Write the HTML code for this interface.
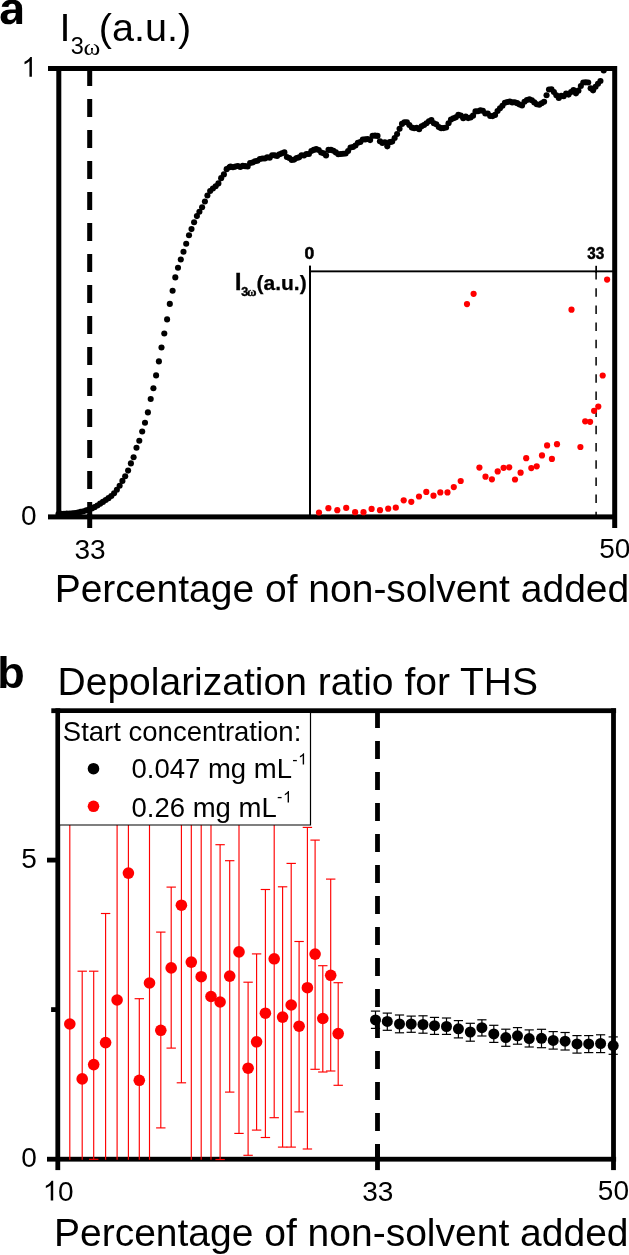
<!DOCTYPE html>
<html><head><meta charset="utf-8"><title>figure</title>
<style>html,body{margin:0;padding:0;background:#fff;width:629px;height:1255px;overflow:hidden}svg{display:block;will-change:transform}</style>
</head><body>
<svg width="629" height="1255" viewBox="0 0 629 1255">
<rect width="629" height="1255" fill="#fff"/>
<g fill="#000">
<rect x="48" y="66" width="569" height="5"/>
<rect x="48" y="514.4" width="569" height="5"/>
<rect x="56.3" y="66" width="5" height="453"/>
<rect x="612.2" y="66" width="5" height="462"/>
<rect x="87.2" y="514" width="5" height="14"/>
</g>
<line x1="89.7" y1="68" x2="89.7" y2="516" stroke="#000" stroke-width="5" stroke-dasharray="18 13"/>
<rect x="309" y="265.6" width="2" height="251" fill="#000"/>
<rect x="310" y="270.4" width="303" height="1.9" fill="#000"/>
<rect x="595.3" y="265.8" width="1.7" height="7" fill="#000"/>
<line x1="596.1" y1="271" x2="596.1" y2="515" stroke="#000" stroke-width="1.5" stroke-dasharray="8.5 8.7"/>
<g fill="#ff0000">
<circle cx="319.0" cy="512.5" r="3.1"/>
<circle cx="328.4" cy="508.2" r="3.1"/>
<circle cx="337.3" cy="510.2" r="3.1"/>
<circle cx="346.2" cy="507.9" r="3.1"/>
<circle cx="355.1" cy="512.2" r="3.1"/>
<circle cx="363.5" cy="512.2" r="3.1"/>
<circle cx="371.6" cy="508.9" r="3.1"/>
<circle cx="380.0" cy="510.2" r="3.1"/>
<circle cx="388.2" cy="508.7" r="3.1"/>
<circle cx="395.8" cy="507.7" r="3.1"/>
<circle cx="403.7" cy="500.3" r="3.1"/>
<circle cx="411.3" cy="501.8" r="3.1"/>
<circle cx="419.0" cy="496.5" r="3.1"/>
<circle cx="426.3" cy="491.9" r="3.1"/>
<circle cx="433.5" cy="495.7" r="3.1"/>
<circle cx="440.3" cy="492.4" r="3.1"/>
<circle cx="447.5" cy="492.4" r="3.1"/>
<circle cx="453.8" cy="487.1" r="3.1"/>
<circle cx="460.7" cy="481.0" r="3.1"/>
<circle cx="467.0" cy="304.1" r="3.1"/>
<circle cx="473.6" cy="293.8" r="3.1"/>
<circle cx="479.4" cy="467.6" r="3.1"/>
<circle cx="485.5" cy="476.7" r="3.1"/>
<circle cx="491.9" cy="479.3" r="3.1"/>
<circle cx="497.7" cy="471.4" r="3.1"/>
<circle cx="503.6" cy="467.8" r="3.1"/>
<circle cx="509.2" cy="467.3" r="3.1"/>
<circle cx="515.0" cy="479.5" r="3.1"/>
<circle cx="520.6" cy="472.7" r="3.1"/>
<circle cx="526.2" cy="458.2" r="3.1"/>
<circle cx="531.3" cy="468.1" r="3.1"/>
<circle cx="536.7" cy="466.3" r="3.1"/>
<circle cx="542.0" cy="455.4" r="3.1"/>
<circle cx="547.1" cy="445.4" r="3.1"/>
<circle cx="551.9" cy="458.9" r="3.1"/>
<circle cx="557.0" cy="444.2" r="3.1"/>
<circle cx="571.5" cy="309.7" r="3.1"/>
<circle cx="580.4" cy="447.0" r="3.1"/>
<circle cx="585.2" cy="421.3" r="3.1"/>
<circle cx="590.1" cy="421.8" r="3.1"/>
<circle cx="594.1" cy="410.8" r="3.1"/>
<circle cx="598.3" cy="406.6" r="3.1"/>
<circle cx="602.7" cy="375.5" r="3.1"/>
<circle cx="607.1" cy="279.6" r="3.1"/>
</g>
<g fill="#000">
<circle cx="58.48" cy="514.04" r="3.05"/>
<circle cx="61.26" cy="513.84" r="3.05"/>
<circle cx="64.04" cy="513.72" r="3.05"/>
<circle cx="66.82" cy="513.63" r="3.05"/>
<circle cx="69.60" cy="513.52" r="3.05"/>
<circle cx="72.38" cy="513.29" r="3.05"/>
<circle cx="75.16" cy="512.93" r="3.05"/>
<circle cx="77.94" cy="512.49" r="3.05"/>
<circle cx="80.72" cy="511.92" r="3.05"/>
<circle cx="83.50" cy="511.18" r="3.05"/>
<circle cx="86.28" cy="510.35" r="3.05"/>
<circle cx="89.06" cy="509.44" r="3.05"/>
<circle cx="91.84" cy="508.38" r="3.05"/>
<circle cx="94.62" cy="507.14" r="3.05"/>
<circle cx="97.40" cy="505.53" r="3.05"/>
<circle cx="100.18" cy="503.67" r="3.05"/>
<circle cx="102.96" cy="501.88" r="3.05"/>
<circle cx="105.74" cy="500.07" r="3.05"/>
<circle cx="108.52" cy="498.14" r="3.05"/>
<circle cx="111.30" cy="495.96" r="3.05"/>
<circle cx="114.08" cy="493.22" r="3.05"/>
<circle cx="116.86" cy="489.75" r="3.05"/>
<circle cx="119.64" cy="485.75" r="3.05"/>
<circle cx="122.42" cy="480.90" r="3.05"/>
<circle cx="125.20" cy="476.30" r="3.05"/>
<circle cx="128.10" cy="470.60" r="3.05"/>
<circle cx="130.90" cy="463.40" r="3.05"/>
<circle cx="133.60" cy="457.30" r="3.05"/>
<circle cx="136.50" cy="447.70" r="3.05"/>
<circle cx="139.30" cy="440.70" r="3.05"/>
<circle cx="142.20" cy="431.50" r="3.05"/>
<circle cx="145.00" cy="422.70" r="3.05"/>
<circle cx="147.90" cy="412.40" r="3.05"/>
<circle cx="150.70" cy="399.00" r="3.05"/>
<circle cx="153.40" cy="388.20" r="3.05"/>
<circle cx="156.10" cy="375.40" r="3.05"/>
<circle cx="158.90" cy="361.40" r="3.05"/>
<circle cx="161.50" cy="347.50" r="3.05"/>
<circle cx="164.30" cy="333.50" r="3.05"/>
<circle cx="167.10" cy="319.40" r="3.05"/>
<circle cx="169.80" cy="303.90" r="3.05"/>
<circle cx="172.60" cy="290.80" r="3.05"/>
<circle cx="175.30" cy="277.40" r="3.05"/>
<circle cx="178.00" cy="267.80" r="3.05"/>
<circle cx="180.80" cy="259.50" r="3.05"/>
<circle cx="183.50" cy="251.70" r="3.05"/>
<circle cx="186.20" cy="243.70" r="3.05"/>
<circle cx="189.00" cy="235.20" r="3.05"/>
<circle cx="191.50" cy="229.10" r="3.05"/>
<circle cx="194.10" cy="222.20" r="3.05"/>
<circle cx="196.90" cy="216.10" r="3.05"/>
<circle cx="199.40" cy="211.70" r="3.05"/>
<circle cx="202.10" cy="207.20" r="3.05"/>
<circle cx="204.90" cy="201.50" r="3.05"/>
<circle cx="207.40" cy="195.50" r="3.05"/>
<circle cx="210.15" cy="190.98" r="3.05"/>
<circle cx="212.90" cy="188.45" r="3.05"/>
<circle cx="215.65" cy="186.24" r="3.05"/>
<circle cx="218.40" cy="183.38" r="3.05"/>
<circle cx="221.15" cy="178.16" r="3.05"/>
<circle cx="223.90" cy="174.38" r="3.05"/>
<circle cx="226.65" cy="169.17" r="3.05"/>
<circle cx="229.40" cy="167.32" r="3.05"/>
<circle cx="230.50" cy="166.44" r="3.05"/>
<circle cx="232.95" cy="167.28" r="3.05"/>
<circle cx="235.40" cy="166.60" r="3.05"/>
<circle cx="237.85" cy="166.06" r="3.05"/>
<circle cx="240.30" cy="166.93" r="3.05"/>
<circle cx="242.75" cy="165.89" r="3.05"/>
<circle cx="245.20" cy="166.16" r="3.05"/>
<circle cx="247.65" cy="166.52" r="3.05"/>
<circle cx="250.10" cy="163.03" r="3.05"/>
<circle cx="252.55" cy="162.49" r="3.05"/>
<circle cx="255.00" cy="161.21" r="3.05"/>
<circle cx="257.45" cy="160.75" r="3.05"/>
<circle cx="259.90" cy="158.94" r="3.05"/>
<circle cx="262.35" cy="158.44" r="3.05"/>
<circle cx="264.80" cy="158.47" r="3.05"/>
<circle cx="267.25" cy="157.34" r="3.05"/>
<circle cx="269.70" cy="157.63" r="3.05"/>
<circle cx="272.15" cy="155.20" r="3.05"/>
<circle cx="274.60" cy="155.37" r="3.05"/>
<circle cx="277.05" cy="155.89" r="3.05"/>
<circle cx="279.50" cy="154.31" r="3.05"/>
<circle cx="281.95" cy="153.33" r="3.05"/>
<circle cx="284.40" cy="152.42" r="3.05"/>
<circle cx="286.85" cy="156.96" r="3.05"/>
<circle cx="289.30" cy="158.02" r="3.05"/>
<circle cx="291.75" cy="159.97" r="3.05"/>
<circle cx="294.20" cy="159.59" r="3.05"/>
<circle cx="296.65" cy="158.06" r="3.05"/>
<circle cx="299.10" cy="157.35" r="3.05"/>
<circle cx="301.55" cy="155.37" r="3.05"/>
<circle cx="304.00" cy="155.47" r="3.05"/>
<circle cx="306.45" cy="153.93" r="3.05"/>
<circle cx="308.90" cy="153.99" r="3.05"/>
<circle cx="311.35" cy="150.98" r="3.05"/>
<circle cx="313.80" cy="149.89" r="3.05"/>
<circle cx="316.25" cy="149.15" r="3.05"/>
<circle cx="318.70" cy="150.05" r="3.05"/>
<circle cx="321.15" cy="152.55" r="3.05"/>
<circle cx="323.60" cy="153.33" r="3.05"/>
<circle cx="326.05" cy="155.40" r="3.05"/>
<circle cx="328.50" cy="149.88" r="3.05"/>
<circle cx="330.95" cy="149.91" r="3.05"/>
<circle cx="333.40" cy="150.70" r="3.05"/>
<circle cx="335.85" cy="152.41" r="3.05"/>
<circle cx="338.30" cy="154.24" r="3.05"/>
<circle cx="340.75" cy="154.05" r="3.05"/>
<circle cx="343.20" cy="153.79" r="3.05"/>
<circle cx="345.65" cy="153.50" r="3.05"/>
<circle cx="348.10" cy="150.98" r="3.05"/>
<circle cx="350.55" cy="147.50" r="3.05"/>
<circle cx="353.00" cy="146.99" r="3.05"/>
<circle cx="355.45" cy="145.43" r="3.05"/>
<circle cx="357.90" cy="142.79" r="3.05"/>
<circle cx="360.35" cy="141.97" r="3.05"/>
<circle cx="362.80" cy="139.45" r="3.05"/>
<circle cx="365.25" cy="139.41" r="3.05"/>
<circle cx="367.70" cy="138.98" r="3.05"/>
<circle cx="370.15" cy="140.09" r="3.05"/>
<circle cx="372.60" cy="135.71" r="3.05"/>
<circle cx="375.05" cy="135.67" r="3.05"/>
<circle cx="377.50" cy="135.90" r="3.05"/>
<circle cx="379.95" cy="141.19" r="3.05"/>
<circle cx="382.40" cy="142.89" r="3.05"/>
<circle cx="384.85" cy="142.26" r="3.05"/>
<circle cx="387.30" cy="146.36" r="3.05"/>
<circle cx="389.75" cy="142.14" r="3.05"/>
<circle cx="392.20" cy="141.59" r="3.05"/>
<circle cx="394.65" cy="138.00" r="3.05"/>
<circle cx="397.10" cy="134.00" r="3.05"/>
<circle cx="399.55" cy="128.87" r="3.05"/>
<circle cx="402.00" cy="123.92" r="3.05"/>
<circle cx="404.45" cy="122.22" r="3.05"/>
<circle cx="406.90" cy="122.36" r="3.05"/>
<circle cx="409.35" cy="125.03" r="3.05"/>
<circle cx="411.80" cy="127.61" r="3.05"/>
<circle cx="414.25" cy="128.28" r="3.05"/>
<circle cx="416.70" cy="127.87" r="3.05"/>
<circle cx="419.15" cy="129.24" r="3.05"/>
<circle cx="421.60" cy="126.20" r="3.05"/>
<circle cx="424.05" cy="125.05" r="3.05"/>
<circle cx="426.50" cy="123.21" r="3.05"/>
<circle cx="428.95" cy="121.32" r="3.05"/>
<circle cx="431.40" cy="120.14" r="3.05"/>
<circle cx="433.85" cy="123.27" r="3.05"/>
<circle cx="436.30" cy="124.21" r="3.05"/>
<circle cx="438.75" cy="127.08" r="3.05"/>
<circle cx="441.20" cy="128.17" r="3.05"/>
<circle cx="443.65" cy="128.08" r="3.05"/>
<circle cx="446.10" cy="127.53" r="3.05"/>
<circle cx="448.55" cy="123.30" r="3.05"/>
<circle cx="451.00" cy="119.61" r="3.05"/>
<circle cx="453.45" cy="118.27" r="3.05"/>
<circle cx="455.90" cy="117.36" r="3.05"/>
<circle cx="458.35" cy="114.75" r="3.05"/>
<circle cx="460.80" cy="115.59" r="3.05"/>
<circle cx="463.25" cy="118.30" r="3.05"/>
<circle cx="465.70" cy="116.53" r="3.05"/>
<circle cx="468.15" cy="118.11" r="3.05"/>
<circle cx="470.60" cy="117.57" r="3.05"/>
<circle cx="473.05" cy="115.66" r="3.05"/>
<circle cx="475.50" cy="111.39" r="3.05"/>
<circle cx="477.95" cy="111.19" r="3.05"/>
<circle cx="480.40" cy="110.38" r="3.05"/>
<circle cx="482.85" cy="110.75" r="3.05"/>
<circle cx="485.30" cy="113.54" r="3.05"/>
<circle cx="487.75" cy="113.55" r="3.05"/>
<circle cx="490.20" cy="116.01" r="3.05"/>
<circle cx="492.65" cy="116.11" r="3.05"/>
<circle cx="495.10" cy="114.89" r="3.05"/>
<circle cx="497.55" cy="110.94" r="3.05"/>
<circle cx="500.00" cy="108.27" r="3.05"/>
<circle cx="502.45" cy="105.73" r="3.05"/>
<circle cx="504.90" cy="102.81" r="3.05"/>
<circle cx="507.35" cy="102.02" r="3.05"/>
<circle cx="509.80" cy="101.48" r="3.05"/>
<circle cx="512.25" cy="102.42" r="3.05"/>
<circle cx="514.70" cy="102.22" r="3.05"/>
<circle cx="517.15" cy="103.14" r="3.05"/>
<circle cx="519.60" cy="104.51" r="3.05"/>
<circle cx="522.05" cy="105.45" r="3.05"/>
<circle cx="524.50" cy="101.68" r="3.05"/>
<circle cx="526.95" cy="99.97" r="3.05"/>
<circle cx="529.40" cy="99.32" r="3.05"/>
<circle cx="531.85" cy="100.23" r="3.05"/>
<circle cx="534.30" cy="102.40" r="3.05"/>
<circle cx="536.75" cy="104.30" r="3.05"/>
<circle cx="539.20" cy="104.71" r="3.05"/>
<circle cx="541.65" cy="103.28" r="3.05"/>
<circle cx="544.10" cy="101.73" r="3.05"/>
<circle cx="546.55" cy="95.27" r="3.05"/>
<circle cx="549.00" cy="89.43" r="3.05"/>
<circle cx="551.45" cy="89.30" r="3.05"/>
<circle cx="553.90" cy="92.04" r="3.05"/>
<circle cx="556.35" cy="95.21" r="3.05"/>
<circle cx="558.80" cy="97.94" r="3.05"/>
<circle cx="561.25" cy="95.68" r="3.05"/>
<circle cx="563.70" cy="96.30" r="3.05"/>
<circle cx="566.15" cy="93.65" r="3.05"/>
<circle cx="568.60" cy="94.59" r="3.05"/>
<circle cx="571.05" cy="92.07" r="3.05"/>
<circle cx="573.50" cy="90.16" r="3.05"/>
<circle cx="575.95" cy="93.36" r="3.05"/>
<circle cx="578.40" cy="90.65" r="3.05"/>
<circle cx="580.85" cy="85.93" r="3.05"/>
<circle cx="583.30" cy="82.50" r="3.05"/>
<circle cx="585.75" cy="82.35" r="3.05"/>
<circle cx="588.20" cy="82.57" r="3.05"/>
<circle cx="590.65" cy="88.33" r="3.05"/>
<circle cx="593.10" cy="90.36" r="3.05"/>
<circle cx="595.55" cy="86.86" r="3.05"/>
<circle cx="598.00" cy="83.70" r="3.05"/>
<circle cx="600.45" cy="81.04" r="3.05"/>
<circle cx="603.70" cy="70.53" r="3.05"/>
</g>
<g font-family='"Liberation Sans", sans-serif' fill="#000">
<path transform="translate(-0.826,23.9) scale(0.02293,-0.02197)" fill="#000" d="M393 -20Q236 -20 148.0 65.5Q60 151 60 306Q60 474 169.5 562.0Q279 650 487 652L720 656V711Q720 817 683.0 868.5Q646 920 562 920Q484 920 447.5 884.5Q411 849 402 767L109 781Q136 939 253.5 1020.5Q371 1102 574 1102Q779 1102 890.0 1001.0Q1001 900 1001 714V0H752Q748 40 746 100Q744 150 742 193H736Q631 -20 393 -20ZM720 501 576 499Q478 495 437.0 477.5Q396 460 374.5 424.0Q353 388 353 328Q353 251 388.5 213.5Q424 176 483 176Q549 176 603.5 212.0Q658 248 689.0 311.5Q720 375 720 446Z"/>
<text x="59.45" y="40.8" font-size="39.6">I</text>
<text x="70.7" y="54.4" font-size="23.5">3</text>
<text x="83.54" y="54.5" font-size="24" font-family='"Liberation Serif", serif' textLength="16.78" lengthAdjust="spacingAndGlyphs">ω</text>
<text x="98.8" y="40.8" font-size="39.6">(a.u.)</text>
<path transform="translate(21.47,76.7) scale(0.01367,-0.01367)" fill="#000" d="M763 0H583V1130Q518 1069 412.5 1008T223 916V1088Q374 1158 487 1257T647 1450H763Z"/>
<text x="20.9" y="524.95" font-size="28">0</text>
<text x="74.4" y="558.75" font-size="28">33</text>
<text x="599.15" y="558.35" font-size="28">50</text>
<text x="54.65" y="602" font-size="39">Percentage of non-solvent added</text>
<g font-weight="bold" stroke="#000" stroke-width="0.5">
<text x="304.53" y="259.1" font-size="16" textLength="9.74" lengthAdjust="spacingAndGlyphs">0</text>
<text x="587.17" y="259.1" font-size="16" textLength="17.0" lengthAdjust="spacingAndGlyphs">33</text>
<text x="235.0" y="289.7" font-size="23" stroke-width="0.4">I</text>
<text x="241.15" y="296.1" font-size="12.5" stroke-width="0.4">3</text>
<text x="247.0" y="296.1" font-size="13" stroke-width="0.4" font-family='"Liberation Serif", serif'>ω</text>
<text x="256.5" y="289.5" font-size="21" stroke-width="0.25">(a.u.)</text>
</g>
</g>
<g fill="#000">
<rect x="51.3" y="708.3" width="564.8" height="4.8"/>
<rect x="47" y="1156.8" width="569.1" height="4.8"/>
<rect x="55.4" y="708.3" width="4.8" height="461.8"/>
<rect x="611.1" y="708.3" width="4.8" height="461.8"/>
<rect x="47" y="857.7" width="10" height="4.8"/>
<rect x="51.1" y="1007.2" width="6" height="4.8"/>
<rect x="375.1" y="1144" width="4.8" height="26.1"/>
</g>
<line x1="377.5" y1="710" x2="377.5" y2="1159" stroke="#000" stroke-width="4.8" stroke-dasharray="18 13"/>
<g stroke="#ff0000" stroke-width="1.15" fill="none">
<line x1="69.8" y1="800" x2="69.8" y2="1159.8"/>
<line x1="82.2" y1="971.2" x2="82.2" y2="1159.8"/>
<line x1="77.5" y1="971.2" x2="86.9" y2="971.2"/>
<line x1="93.7" y1="971.2" x2="93.7" y2="1159.3"/>
<line x1="89.0" y1="971.2" x2="98.4" y2="971.2"/>
<line x1="89.0" y1="1159.3" x2="98.4" y2="1159.3"/>
<line x1="105.6" y1="913.5" x2="105.6" y2="1159.8"/>
<line x1="100.89999999999999" y1="913.5" x2="110.3" y2="913.5"/>
<line x1="117.1" y1="800" x2="117.1" y2="1159.8"/>
<line x1="128.4" y1="800" x2="128.4" y2="1159.8"/>
<line x1="139.3" y1="998.7" x2="139.3" y2="1159.8"/>
<line x1="134.60000000000002" y1="998.7" x2="144.0" y2="998.7"/>
<line x1="149.5" y1="800" x2="149.5" y2="1159.8"/>
<line x1="160.8" y1="932.1" x2="160.8" y2="1127.9"/>
<line x1="156.10000000000002" y1="932.1" x2="165.5" y2="932.1"/>
<line x1="156.10000000000002" y1="1127.9" x2="165.5" y2="1127.9"/>
<line x1="171.2" y1="887.1" x2="171.2" y2="1048.1"/>
<line x1="166.5" y1="887.1" x2="175.89999999999998" y2="887.1"/>
<line x1="166.5" y1="1048.1" x2="175.89999999999998" y2="1048.1"/>
<line x1="181.4" y1="800" x2="181.4" y2="1082.8"/>
<line x1="176.70000000000002" y1="1082.8" x2="186.1" y2="1082.8"/>
<line x1="191.3" y1="800" x2="191.3" y2="1159.8"/>
<line x1="201.2" y1="800" x2="201.2" y2="1159.8"/>
<line x1="211.0" y1="800" x2="211.0" y2="1159.8"/>
<line x1="220.1" y1="844.7" x2="220.1" y2="1159.5"/>
<line x1="215.4" y1="844.7" x2="224.79999999999998" y2="844.7"/>
<line x1="215.4" y1="1159.5" x2="224.79999999999998" y2="1159.5"/>
<line x1="229.7" y1="860.7" x2="229.7" y2="1092.1"/>
<line x1="225.0" y1="860.7" x2="234.39999999999998" y2="860.7"/>
<line x1="225.0" y1="1092.1" x2="234.39999999999998" y2="1092.1"/>
<line x1="239.0" y1="800" x2="239.0" y2="1133.4"/>
<line x1="234.3" y1="1133.4" x2="243.7" y2="1133.4"/>
<line x1="248.1" y1="982.2" x2="248.1" y2="1155.3"/>
<line x1="243.4" y1="982.2" x2="252.79999999999998" y2="982.2"/>
<line x1="243.4" y1="1155.3" x2="252.79999999999998" y2="1155.3"/>
<line x1="256.6" y1="953.9" x2="256.6" y2="1130.1"/>
<line x1="251.90000000000003" y1="953.9" x2="261.3" y2="953.9"/>
<line x1="251.90000000000003" y1="1130.1" x2="261.3" y2="1130.1"/>
<line x1="265.4" y1="889.5" x2="265.4" y2="1137.5"/>
<line x1="260.7" y1="889.5" x2="270.09999999999997" y2="889.5"/>
<line x1="260.7" y1="1137.5" x2="270.09999999999997" y2="1137.5"/>
<line x1="274.2" y1="800" x2="274.2" y2="1117.7"/>
<line x1="269.5" y1="1117.7" x2="278.9" y2="1117.7"/>
<line x1="282.6" y1="886.8" x2="282.6" y2="1147.1"/>
<line x1="277.90000000000003" y1="886.8" x2="287.3" y2="886.8"/>
<line x1="277.90000000000003" y1="1147.1" x2="287.3" y2="1147.1"/>
<line x1="291.2" y1="863.4" x2="291.2" y2="1147.1"/>
<line x1="286.5" y1="863.4" x2="295.9" y2="863.4"/>
<line x1="286.5" y1="1147.1" x2="295.9" y2="1147.1"/>
<line x1="299.1" y1="941.5" x2="299.1" y2="1111.9"/>
<line x1="294.40000000000003" y1="941.5" x2="303.8" y2="941.5"/>
<line x1="294.40000000000003" y1="1111.9" x2="303.8" y2="1111.9"/>
<line x1="307.4" y1="827.4" x2="307.4" y2="1149"/>
<line x1="302.7" y1="827.4" x2="312.09999999999997" y2="827.4"/>
<line x1="302.7" y1="1149" x2="312.09999999999997" y2="1149"/>
<line x1="315.1" y1="840.1" x2="315.1" y2="1069.3"/>
<line x1="310.40000000000003" y1="840.1" x2="319.8" y2="840.1"/>
<line x1="310.40000000000003" y1="1069.3" x2="319.8" y2="1069.3"/>
<line x1="322.8" y1="965.7" x2="322.8" y2="1072"/>
<line x1="318.1" y1="965.7" x2="327.5" y2="965.7"/>
<line x1="318.1" y1="1072" x2="327.5" y2="1072"/>
<line x1="330.7" y1="879.1" x2="330.7" y2="1071"/>
<line x1="326.0" y1="879.1" x2="335.4" y2="879.1"/>
<line x1="326.0" y1="1071" x2="335.4" y2="1071"/>
<line x1="338.2" y1="982.7" x2="338.2" y2="1085.3"/>
<line x1="333.5" y1="982.7" x2="342.9" y2="982.7"/>
<line x1="333.5" y1="1085.3" x2="342.9" y2="1085.3"/>
</g>
<g fill="#ff0000">
<circle cx="69.8" cy="1024" r="5.8"/>
<circle cx="82.2" cy="1078.9" r="5.8"/>
<circle cx="93.7" cy="1064.6" r="5.8"/>
<circle cx="105.6" cy="1042.6" r="5.8"/>
<circle cx="117.1" cy="1000" r="5.8"/>
<circle cx="128.4" cy="873.1" r="5.8"/>
<circle cx="139.3" cy="1080.3" r="5.8"/>
<circle cx="149.5" cy="983" r="5.8"/>
<circle cx="160.8" cy="1030.3" r="5.8"/>
<circle cx="171.2" cy="967.9" r="5.8"/>
<circle cx="181.4" cy="905.2" r="5.8"/>
<circle cx="191.3" cy="962.1" r="5.8"/>
<circle cx="201.2" cy="976.7" r="5.8"/>
<circle cx="211.0" cy="996.5" r="5.8"/>
<circle cx="220.1" cy="1002" r="5.8"/>
<circle cx="229.7" cy="976.1" r="5.8"/>
<circle cx="239.0" cy="951.9" r="5.8"/>
<circle cx="248.1" cy="1068.2" r="5.8"/>
<circle cx="256.6" cy="1041.8" r="5.8"/>
<circle cx="265.4" cy="1013.2" r="5.8"/>
<circle cx="274.2" cy="958.8" r="5.8"/>
<circle cx="282.6" cy="1017.1" r="5.8"/>
<circle cx="291.2" cy="1005" r="5.8"/>
<circle cx="299.1" cy="1026.2" r="5.8"/>
<circle cx="307.4" cy="987.7" r="5.8"/>
<circle cx="315.1" cy="954.1" r="5.8"/>
<circle cx="322.8" cy="1018.5" r="5.8"/>
<circle cx="330.7" cy="975.3" r="5.8"/>
<circle cx="338.2" cy="1033.6" r="5.8"/>
</g>
<g stroke="#000" stroke-width="1.2" fill="none">
<line x1="375.5" y1="1011.1" x2="375.5" y2="1028.4"/>
<line x1="370.9" y1="1011.1" x2="380.1" y2="1011.1"/>
<line x1="370.9" y1="1028.4" x2="380.1" y2="1028.4"/>
<line x1="387.3" y1="1013.1" x2="387.3" y2="1030.3"/>
<line x1="382.7" y1="1013.1" x2="391.90000000000003" y2="1013.1"/>
<line x1="382.7" y1="1030.3" x2="391.90000000000003" y2="1030.3"/>
<line x1="399.5" y1="1015.0" x2="399.5" y2="1032.8"/>
<line x1="394.9" y1="1015.0" x2="404.1" y2="1015.0"/>
<line x1="394.9" y1="1032.8" x2="404.1" y2="1032.8"/>
<line x1="411.2" y1="1016.1" x2="411.2" y2="1032.3"/>
<line x1="406.59999999999997" y1="1016.1" x2="415.8" y2="1016.1"/>
<line x1="406.59999999999997" y1="1032.3" x2="415.8" y2="1032.3"/>
<line x1="423.0" y1="1015.8" x2="423.0" y2="1033.2"/>
<line x1="418.4" y1="1015.8" x2="427.6" y2="1015.8"/>
<line x1="418.4" y1="1033.2" x2="427.6" y2="1033.2"/>
<line x1="434.5" y1="1017.4" x2="434.5" y2="1034.4"/>
<line x1="429.9" y1="1017.4" x2="439.1" y2="1017.4"/>
<line x1="429.9" y1="1034.4" x2="439.1" y2="1034.4"/>
<line x1="446.5" y1="1018.0" x2="446.5" y2="1034.4"/>
<line x1="441.9" y1="1018.0" x2="451.1" y2="1018.0"/>
<line x1="441.9" y1="1034.4" x2="451.1" y2="1034.4"/>
<line x1="458.4" y1="1020.6" x2="458.4" y2="1037.9"/>
<line x1="453.79999999999995" y1="1020.6" x2="463.0" y2="1020.6"/>
<line x1="453.79999999999995" y1="1037.9" x2="463.0" y2="1037.9"/>
<line x1="470.3" y1="1023.3" x2="470.3" y2="1041.2"/>
<line x1="465.7" y1="1023.3" x2="474.90000000000003" y2="1023.3"/>
<line x1="465.7" y1="1041.2" x2="474.90000000000003" y2="1041.2"/>
<line x1="481.9" y1="1019.8" x2="481.9" y2="1036.0"/>
<line x1="477.29999999999995" y1="1019.8" x2="486.5" y2="1019.8"/>
<line x1="477.29999999999995" y1="1036.0" x2="486.5" y2="1036.0"/>
<line x1="493.8" y1="1025.3" x2="493.8" y2="1042.4"/>
<line x1="489.2" y1="1025.3" x2="498.40000000000003" y2="1025.3"/>
<line x1="489.2" y1="1042.4" x2="498.40000000000003" y2="1042.4"/>
<line x1="505.8" y1="1029.2" x2="505.8" y2="1046.3"/>
<line x1="501.2" y1="1029.2" x2="510.40000000000003" y2="1029.2"/>
<line x1="501.2" y1="1046.3" x2="510.40000000000003" y2="1046.3"/>
<line x1="517.5" y1="1027.6" x2="517.5" y2="1044.2"/>
<line x1="512.9" y1="1027.6" x2="522.1" y2="1027.6"/>
<line x1="512.9" y1="1044.2" x2="522.1" y2="1044.2"/>
<line x1="529.2" y1="1029.9" x2="529.2" y2="1047.0"/>
<line x1="524.6" y1="1029.9" x2="533.8000000000001" y2="1029.9"/>
<line x1="524.6" y1="1047.0" x2="533.8000000000001" y2="1047.0"/>
<line x1="541.5" y1="1029.3" x2="541.5" y2="1047.7"/>
<line x1="536.9" y1="1029.3" x2="546.1" y2="1029.3"/>
<line x1="536.9" y1="1047.7" x2="546.1" y2="1047.7"/>
<line x1="553.2" y1="1031.6" x2="553.2" y2="1049.1"/>
<line x1="548.6" y1="1031.6" x2="557.8000000000001" y2="1031.6"/>
<line x1="548.6" y1="1049.1" x2="557.8000000000001" y2="1049.1"/>
<line x1="565.1" y1="1032.5" x2="565.1" y2="1050.0"/>
<line x1="560.5" y1="1032.5" x2="569.7" y2="1032.5"/>
<line x1="560.5" y1="1050.0" x2="569.7" y2="1050.0"/>
<line x1="577.0" y1="1035.6" x2="577.0" y2="1053.1"/>
<line x1="572.4" y1="1035.6" x2="581.6" y2="1035.6"/>
<line x1="572.4" y1="1053.1" x2="581.6" y2="1053.1"/>
<line x1="588.7" y1="1035.6" x2="588.7" y2="1052.6"/>
<line x1="584.1" y1="1035.6" x2="593.3000000000001" y2="1035.6"/>
<line x1="584.1" y1="1052.6" x2="593.3000000000001" y2="1052.6"/>
<line x1="600.6" y1="1034.8" x2="600.6" y2="1052.6"/>
<line x1="596.0" y1="1034.8" x2="605.2" y2="1034.8"/>
<line x1="596.0" y1="1052.6" x2="605.2" y2="1052.6"/>
<line x1="613.2" y1="1036.9" x2="613.2" y2="1054.3"/>
<line x1="608.6" y1="1036.9" x2="617.8000000000001" y2="1036.9"/>
<line x1="608.6" y1="1054.3" x2="617.8000000000001" y2="1054.3"/>
</g>
<g fill="#000">
<circle cx="375.5" cy="1019.9" r="5.5"/>
<circle cx="387.3" cy="1021.4" r="5.5"/>
<circle cx="399.5" cy="1024.0" r="5.5"/>
<circle cx="411.2" cy="1024.0" r="5.5"/>
<circle cx="423.0" cy="1024.5" r="5.5"/>
<circle cx="434.5" cy="1025.7" r="5.5"/>
<circle cx="446.5" cy="1026.5" r="5.5"/>
<circle cx="458.4" cy="1028.8" r="5.5"/>
<circle cx="470.3" cy="1032.0" r="5.5"/>
<circle cx="481.9" cy="1027.7" r="5.5"/>
<circle cx="493.8" cy="1033.9" r="5.5"/>
<circle cx="505.8" cy="1037.6" r="5.5"/>
<circle cx="517.5" cy="1035.8" r="5.5"/>
<circle cx="529.2" cy="1038.6" r="5.5"/>
<circle cx="541.5" cy="1038.3" r="5.5"/>
<circle cx="553.2" cy="1040.4" r="5.5"/>
<circle cx="565.1" cy="1041.2" r="5.5"/>
<circle cx="577.0" cy="1043.9" r="5.5"/>
<circle cx="588.7" cy="1043.9" r="5.5"/>
<circle cx="600.6" cy="1043.5" r="5.5"/>
<circle cx="613.2" cy="1045.6" r="5.5"/>
</g>
<path d="M60.2 713.1 H310.5 V825 H60.2 Z" fill="#fff"/>
<path d="M310.5 712 V825 H59" fill="none" stroke="#000" stroke-width="1.2"/>
<circle cx="93.5" cy="768.7" r="5.8" fill="#000"/>
<circle cx="93.5" cy="806.3" r="5.8" fill="#ff0000"/>
<g font-family='"Liberation Sans", sans-serif' fill="#000">
<text x="-2.65" y="687.7" font-size="45" font-weight="bold">b</text>
<text x="57.55" y="695.3" font-size="39">Depolarization ratio for THS</text>
<text x="62.85" y="740.5" font-size="27.5">Start concentration:</text>
<text x="131.5" y="778.35" font-size="27.5">0.047 mg mL</text>
<text x="292.2" y="764.5" font-size="16">-</text>
<path transform="translate(298.14,764.5) scale(0.00781,-0.00781)" fill="#000" d="M763 0H583V1130Q518 1069 412.5 1008T223 916V1088Q374 1158 487 1257T647 1450H763Z"/>
<text x="131.5" y="816.5" font-size="27.5">0.26 mg mL</text>
<text x="277.0" y="802.4" font-size="16">-</text>
<path transform="translate(283.04,802.4) scale(0.00781,-0.00781)" fill="#000" d="M763 0H583V1130Q518 1069 412.5 1008T223 916V1088Q374 1158 487 1257T647 1450H763Z"/>
<text x="21.15" y="868.35" font-size="28">5</text>
<text x="21.2" y="1167.25" font-size="28">0</text>
<path transform="translate(42.77,1200.6) scale(0.01367,-0.01367)" fill="#000" d="M763 0H583V1130Q518 1069 412.5 1008T223 916V1088Q374 1158 487 1257T647 1450H763Z"/>
<text x="58.1" y="1200.6" font-size="28">0</text>
<text x="362.3" y="1200.85" font-size="28">33</text>
<text x="597.85" y="1200.35" font-size="28">50</text>
<text x="53.95" y="1246" font-size="39">Percentage of non-solvent added</text>
</g>
</svg>
</body></html>
